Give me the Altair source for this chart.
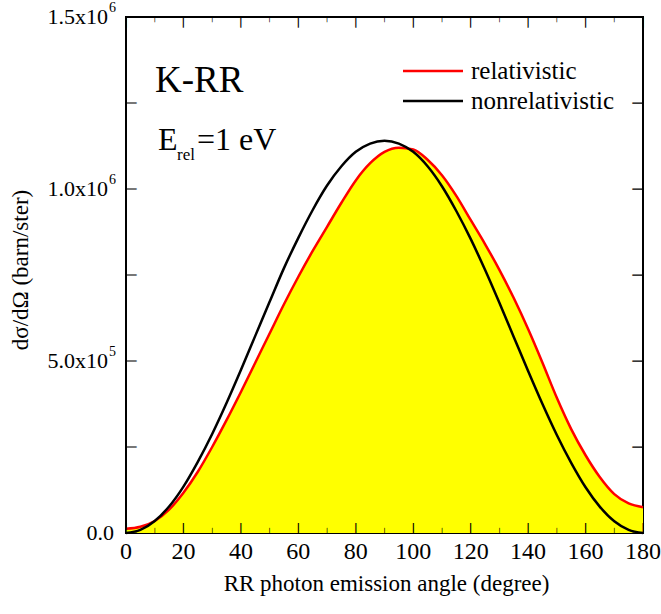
import altair as alt
import pandas as pd

# ---------------- data (values in units of 1e6 barn/ster) ----------------
angle = list(range(0, 181, 5))
relativistic = [0.012, 0.018, 0.035, 0.068, 0.117, 0.178, 0.250, 0.328, 0.410,
                0.495, 0.580, 0.665, 0.745, 0.820, 0.890, 0.960, 1.025, 1.075,
                1.108, 1.120, 1.115, 1.085, 1.040, 0.980, 0.910, 0.840, 0.765,
                0.683, 0.593, 0.495, 0.393, 0.302, 0.226, 0.162, 0.113, 0.086,
                0.075]
nonrelativistic = [0.0, 0.009, 0.035, 0.077, 0.135, 0.207, 0.288, 0.378, 0.474,
                   0.573, 0.672, 0.770, 0.858, 0.939, 1.010, 1.066, 1.108, 1.132,
                   1.140, 1.132, 1.108, 1.066, 1.008, 0.936, 0.855, 0.765, 0.669,
                   0.570, 0.471, 0.375, 0.285, 0.204, 0.133, 0.076, 0.034, 0.009,
                   0.0]

x_major = list(range(0, 181, 20))
x_minor = list(range(10, 180, 20))
y_ticks = [0, 250000, 500000, 750000, 1000000, 1250000, 1500000]
y_label_values = [500000, 1000000, 1500000]
y_label_mant = ["5.0x10", "1.0x10", "1.5x10"]
y_label_exp = ["5", "6", "6"]
y_zero_label = ["0.0"]
legend_labels = ["relativistic", "nonrelativistic"]
legend_colors = ["#FF0000", "#000000"]

W, H = 517, 516
FONT = "Liberation Serif"
XMAX, YMAX = 180, 1500000

df = pd.DataFrame({
    "angle": angle,
    "rel": [v * 1e6 for v in relativistic],
    "nonrel": [v * 1e6 for v in nonrelativistic],
})

xs = alt.Scale(domain=[0, XMAX], nice=False, zero=False)
ys = alt.Scale(domain=[0, YMAX], nice=False)

area = alt.Chart(df).mark_area(color="#FFFF00", interpolate="monotone").encode(
    x=alt.X("angle:Q", scale=xs, axis=None),
    y=alt.Y("rel:Q", scale=ys, axis=None),
)
line_non = alt.Chart(df).mark_line(color="black", strokeWidth=2.5, interpolate="monotone").encode(
    x=alt.X("angle:Q", scale=xs, axis=None),
    y=alt.Y("nonrel:Q", scale=ys, axis=None),
)
line_rel = alt.Chart(df).mark_line(color="#FF0000", strokeWidth=2.5, interpolate="monotone").encode(
    x=alt.X("angle:Q", scale=xs, axis=None),
    y=alt.Y("rel:Q", scale=ys, axis=None),
)

# ---------------- inward ticks drawn as "|" glyphs (DejaVu Sans bar: -0.236em .. 0.76em) ----------------
dmaj = pd.DataFrame({"t": x_major})
dmin = pd.DataFrame({"t": x_minor})
dyt = pd.DataFrame({"v": y_ticks})
UP, DN = 0.76, 0.236

def glyph(fs, ang=0):
    return dict(text="|", font="DejaVu Sans", fontWeight="bold", fontSize=fs,
                baseline="alphabetic", align="center", color="#000000", angle=ang)

def x_ticks(d, fs):
    bot = alt.Chart(d).mark_text(**glyph(fs)).encode(
        x=alt.X("t:Q", scale=xs, axis=None), y=alt.value(H - DN * fs))
    top = alt.Chart(d).mark_text(**glyph(fs)).encode(
        x=alt.X("t:Q", scale=xs, axis=None), y=alt.value(UP * fs))
    return [bot, top]

YFS = 10
left_t = alt.Chart(dyt).mark_text(**glyph(YFS, 270)).encode(
    y=alt.Y("v:Q", scale=ys, axis=None), x=alt.value(UP * YFS))
right_t = alt.Chart(dyt).mark_text(**glyph(YFS, 90)).encode(
    y=alt.Y("v:Q", scale=ys, axis=None), x=alt.value(W - UP * YFS))

# ---------------- x tick labels ----------------
dxl = pd.DataFrame({"t": x_major})
xlab = alt.Chart(dxl).mark_text(align="center", baseline="top", font=FONT,
                                fontSize=24, color="black").encode(
    x=alt.X("t:Q", scale=xs, axis=None), y=alt.value(H + 7), text="t:N")

# ---------------- y tick labels with superscript ----------------
dlab = pd.DataFrame({"v": y_label_values, "m": y_label_mant, "e": y_label_exp})
ylab = alt.Chart(dlab).mark_text(align="right", baseline="middle", font=FONT,
                                 fontSize=22, color="black").encode(
    y=alt.Y("v:Q", scale=ys, axis=None), x=alt.value(-18), text="m:N")
yexp = alt.Chart(dlab).mark_text(align="left", baseline="middle", font=FONT,
                                 fontSize=14, color="black", dy=-9).encode(
    y=alt.Y("v:Q", scale=ys, axis=None), x=alt.value(-17), text="e:N")
dz = pd.DataFrame({"v": [0], "m": y_zero_label})
yzero = alt.Chart(dz).mark_text(align="right", baseline="middle", font=FONT,
                                fontSize=22, color="black").encode(
    y=alt.Y("v:Q", scale=ys, axis=None), x=alt.value(-12), text="m:N")

one = pd.DataFrame({"a": [0]})

def txt(s, x, y, size, align="left", baseline="alphabetic", angle=0):
    return alt.Chart(one).mark_text(align=align, baseline=baseline, font=FONT,
                                    fontSize=size, color="black", angle=angle).encode(
        x=alt.value(x), y=alt.value(y), text=alt.value(s))

ytitle = txt("dσ/dΩ (barn/ster)", -105, 253, 23, align="center", baseline="middle", angle=270)
xtitle = txt("RR photon emission angle (degree)", W / 2 + 2, H + 58, 23, align="center")

# ---------------- annotations ----------------
krr = txt("K-RR", 29, 75, 37)
e1 = txt("E", 32, 133, 32)
e2 = txt("rel", 51, 143, 17)
e3 = txt("=1 eV", 71, 133, 32)

leg = []
for i, (lab, col) in enumerate(zip(legend_labels, legend_colors)):
    yy = 54 + 30 * i
    leg.append(alt.Chart(one).mark_rule(color=col, strokeWidth=2.5).encode(
        x=alt.value(277), x2=alt.value(337), y=alt.value(yy)))
    leg.append(txt(lab, 345, yy + 8, 25))

chart = alt.layer(
    area, line_rel, line_non,
    *x_ticks(dmaj, 10), *x_ticks(dmin, 5.5), left_t, right_t,
    xlab, ylab, yexp, yzero, ytitle, xtitle, krr, e1, e2, e3, *leg,
).properties(
    width=W, height=H,
    autosize=alt.AutoSizeParams(type="none"),
    padding={"left": 126, "top": 17, "right": 18, "bottom": 81},
    background="white",
).configure_view(stroke="black", strokeWidth=2)

chart.save("out.html", embed_options={"renderer": "svg", "actions": False})
